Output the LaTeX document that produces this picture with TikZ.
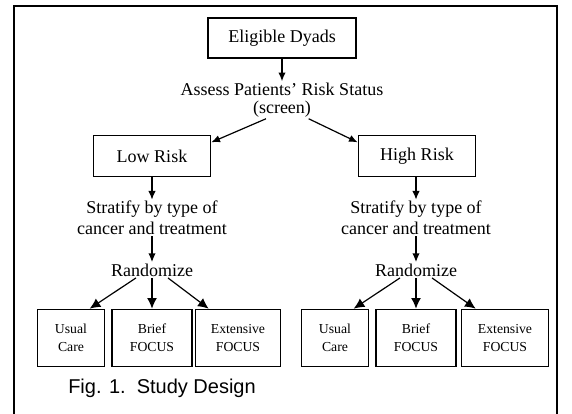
\documentclass[tikz,border=0pt]{standalone}
\usepackage{fontspec}
\setmainfont{Liberation Serif}
\newfontfamily\captionfont{Liberation Sans}
\usetikzlibrary{arrows.meta}
\tikzstyle{stagebox} = [draw=black, line width=1pt, rectangle,
    minimum width=111pt, minimum height=31pt, font=\fontsize{13.5}{15}\selectfont]
\tikzstyle{armbox} = [draw=black, line width=1pt, rectangle, align=center,
    minimum height=43pt, inner sep=0pt, font=\fontsize{10.3}{13.5}\selectfont]
\tikzstyle{notetext} = [align=center, inner sep=1pt, font=\fontsize{13.5}{15.5}\selectfont]
\tikzstyle{flow} = [line width=0.9pt, -{Latex[length=6.5pt,width=5.5pt]}]
\tikzstyle{split} = [line width=0.9pt, -{Latex[length=8pt,width=7.5pt]}]

\begin{document}
\begin{tikzpicture}[x=0.75pt, y=-0.75pt]
\useasboundingbox (0,0) rectangle (572,414);
% outer frame, open at the bottom
\draw[line width=1.5pt] (14,414) -- (14,6) -- (557,6) -- (557,414);

\node [stagebox, minimum width=111pt, minimum height=30pt] (dyads) at (282,38) {Eligible Dyads};
\node [notetext, font=\fontsize{13.5}{13.5}\selectfont] (assess) at (282,100) {Assess Patients' Risk Status\\(screen)};
\node [stagebox, minimum width=88pt] (low) at (152,156) {Low Risk};
\node [stagebox, minimum width=88pt] (high) at (417,156) {High Risk};

\node [notetext] (stratlow) at (152,218) {Stratify by type of\\cancer and treatment};
\node [notetext] (stratHigh) at (416,218) {Stratify by type of\\cancer and treatment};
\node [notetext] (randlow) at (152,270) {Randomize};
\node [notetext] (randhigh) at (416,270) {Randomize};

% arms of the low risk group
\node [armbox, minimum width=50pt] (usuallow) at (71,338) {Usual\\Care};
\node [armbox, minimum width=60pt] (brieflow) at (152,338) {Brief\\FOCUS};
\node [armbox, minimum width=64pt] (extlow) at (238,338) {Extensive\\FOCUS};
% arms of the high risk group
\node [armbox, minimum width=50pt] (usualhigh) at (335,338) {Usual\\Care};
\node [armbox, minimum width=60pt] (briefhigh) at (416,338) {Brief\\FOCUS};
\node [armbox, minimum width=65pt] (exthigh) at (505,338) {Extensive\\FOCUS};

\node [anchor=west, inner sep=0pt, font=\captionfont\fontsize{15}{17}\selectfont] (caption) at (68,388) {Fig. 1.\ \ Study Design};

\draw[flow] (dyads.south) -- (assess.north);
\draw[flow] ([xshift=-12pt]assess.south) -- (low.13);
\draw[flow] ([xshift=20pt]assess.south) -- (high.167);
\draw[flow] (low.south) -- (stratlow.north);
\draw[flow] (high.south -| stratHigh.north) -- (stratHigh.north);
\draw[flow] (stratlow.south) -- (randlow.north);
\draw[flow] (stratHigh.south) -- (randhigh.north);

\draw[split] ([xshift=-12pt]randlow.south) -- ([xshift=14pt]usuallow.north);
\draw[split] (randlow.south) -- (brieflow.north);
\draw[split] ([xshift=12pt]randlow.south) -- ([xshift=-22pt]extlow.north);
\draw[split] ([xshift=-12pt]randhigh.south) -- ([xshift=14pt]usualhigh.north);
\draw[split] (randhigh.south) -- (briefhigh.north);
\draw[split] ([xshift=12pt]randhigh.south) -- ([xshift=-22pt]exthigh.north);
\end{tikzpicture}
\end{document}
